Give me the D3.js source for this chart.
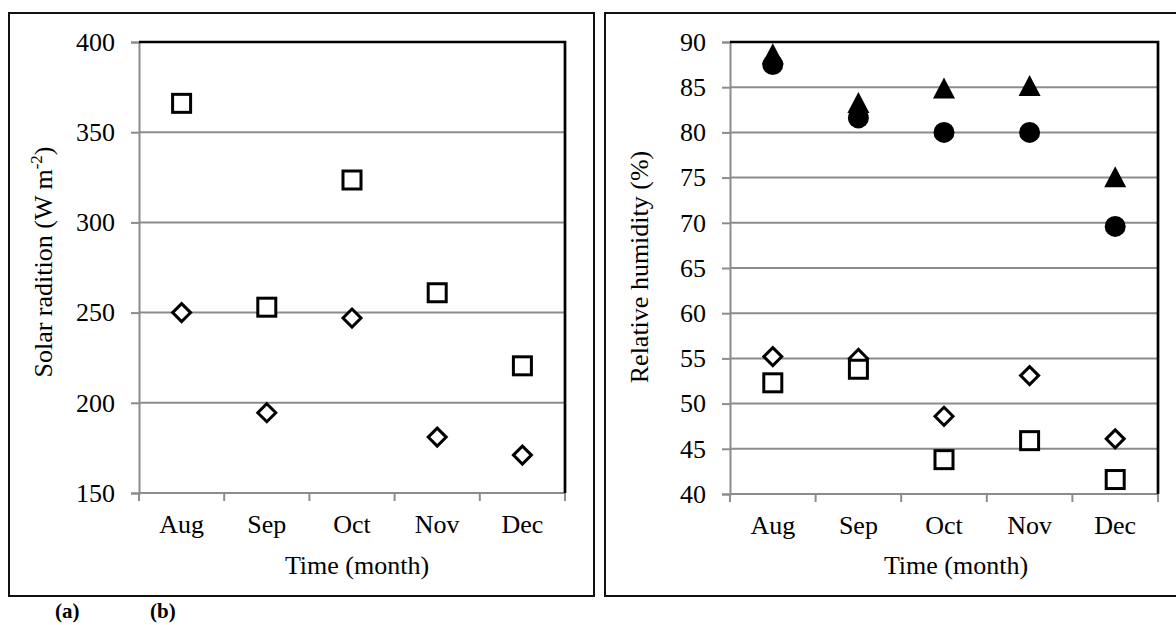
<!DOCTYPE html>
<html>
<head>
<meta charset="utf-8">
<script src="https://cdn.jsdelivr.net/npm/d3@7"></script>
<style>
  body { margin: 0; background: #fff; }
  svg text { font-family: "Liberation Serif", "Times New Roman", serif; fill: #000; }
</style>
</head>
<body>
<div class="chart"></div>
<script>
var svgWidth = 1176;
var svgHeight = 625;

// months shared by both panels
var months = ["Aug", "Sep", "Oct", "Nov", "Dec"];

// panel (a) solar radiation
var solarTicks = [150, 200, 250, 300, 350, 400];
var solarSquares = [366, 253, 323.5, 261, 220.5];
var solarDiamonds = [250, 194.5, 247, 181, 171];

// panel (b) relative humidity
var rhTicks = [40, 45, 50, 55, 60, 65, 70, 75, 80, 85, 90];
var rhTriangles = [88.7, 83.3, 84.9, 85.2, 75.1];
var rhCircles = [87.5, 81.6, 80, 80, 69.6];
var rhDiamonds = [55.2, 55.0, 48.6, 53.1, 46.1];
var rhSquares = [52.3, 53.8, 43.8, 45.9, 41.6];

var svg = d3.select(".chart")
  .append("svg")
  .attr("width", svgWidth)
  .attr("height", svgHeight);

// marker shapes
var shapes = {
  square: function(g) {
    g.append("rect").attr("x", -9).attr("y", -9).attr("width", 18).attr("height", 18)
      .attr("fill", "#fff").attr("stroke", "#000").attr("stroke-width", 3);
  },
  diamond: function(g) {
    g.append("path").attr("d", "M0,-9L9,0L0,9L-9,0Z")
      .attr("fill", "#fff").attr("stroke", "#000").attr("stroke-width", 3);
  },
  triangle: function(g) {
    g.append("path").attr("d", "M0,-10.5L11,10.5L-11,10.5Z").attr("fill", "#000");
  },
  circle: function(g) {
    g.append("circle").attr("r", 10.5).attr("fill", "#000");
  }
};

function drawPanel(p) {
  // outer frame
  svg.append("rect")
    .attr("x", p.frame[0]).attr("y", p.frame[1])
    .attr("width", p.frame[2]).attr("height", p.frame[3])
    .attr("fill", "none").attr("stroke", "#111").attr("stroke-width", 2);

  var x = d3.scaleBand().domain(months).range([p.left, p.right]).padding(0);
  var y = d3.scaleLinear().domain(p.domain).range([p.bottom, p.top]);

  var g = svg.append("g");

  // horizontal gridlines
  g.selectAll(".grid")
    .data(p.ticks.filter(function(t) { return t !== p.domain[0] && t !== p.domain[1]; }))
    .enter().append("line")
    .attr("x1", p.left).attr("x2", p.right)
    .attr("y1", d => y(d)).attr("y2", d => y(d))
    .attr("stroke", "#8c8c8c").attr("stroke-width", 2);

  // y axis
  var yAxis = g.append("g")
    .attr("transform", `translate(${p.left},0)`)
    .call(d3.axisLeft(y).tickValues(p.ticks).tickSize(8).tickPadding(16).tickFormat(d3.format("d")));
  yAxis.select(".domain").attr("stroke", "#8c8c8c").attr("stroke-width", 2);
  yAxis.selectAll(".tick line").attr("stroke", "#8c8c8c").attr("stroke-width", 2);
  yAxis.selectAll("text").style("font-size", "26px").attr("fill", "#000");

  // x axis: labels at band centres, ticks at band edges
  var xAxis = g.append("g")
    .attr("transform", `translate(0,${p.bottom})`)
    .call(d3.axisBottom(x).tickSize(0).tickPadding(0));
  xAxis.select(".domain").remove();
  xAxis.selectAll("text").style("font-size", "26px").attr("y", 40).attr("dy", 0).attr("fill", "#000");

  var edges = months.map(m => x(m)).concat([p.right]);
  g.selectAll(".xtick").data(edges).enter().append("line")
    .attr("x1", d => d).attr("x2", d => d)
    .attr("y1", p.bottom).attr("y2", p.bottom + 8)
    .attr("stroke", "#8c8c8c").attr("stroke-width", 2);
  g.append("line")
    .attr("x1", p.left).attr("x2", p.right).attr("y1", p.bottom).attr("y2", p.bottom)
    .attr("stroke", "#8c8c8c").attr("stroke-width", 2);

  // black top and right border
  g.append("path")
    .attr("d", `M${p.left},${p.top}H${p.right}V${p.bottom}`)
    .attr("fill", "none").attr("stroke", "#000").attr("stroke-width", 2.7);

  // series
  p.series.forEach(function(s) {
    g.selectAll(null).data(s.values).enter().append("g")
      .attr("transform", (d, i) => `translate(${x(months[i]) + x.bandwidth() / 2},${y(d)})`)
      .each(function() { shapes[s.shape](d3.select(this)); });
  });

  // axis titles
  g.append("text")
    .attr("x", (p.left + p.right) / 2 + p.xTitleShift).attr("y", 574)
    .attr("text-anchor", "middle").style("font-size", "26px")
    .text("Time (month)");

  var yt = g.append("text")
    .attr("transform", `translate(${p.yTitleX},${p.yTitleY}) rotate(-90)`)
    .attr("text-anchor", "middle").style("font-size", "26px");
  p.yTitle(yt);
}

drawPanel({
  frame: [9, 13, 585, 583],
  left: 139, right: 565, top: 42, bottom: 493,
  domain: [150, 400], ticks: solarTicks,
  series: [
    { shape: "square", values: solarSquares },
    { shape: "diamond", values: solarDiamonds }
  ],
  xTitleShift: 5,
  yTitleX: 52, yTitleY: 262,
  yTitle: function(t) {
    t.append("tspan").text("Solar radition (W m");
    t.append("tspan").attr("dy", -10).style("font-size", "17px").text("-2");
    t.append("tspan").attr("dy", 10).text(")");
  }
});

drawPanel({
  frame: [605, 13, 580, 583],
  left: 730, right: 1158, top: 42, bottom: 494,
  domain: [40, 90], ticks: rhTicks,
  series: [
    { shape: "triangle", values: rhTriangles },
    { shape: "circle", values: rhCircles },
    { shape: "diamond", values: rhDiamonds },
    { shape: "square", values: rhSquares }
  ],
  xTitleShift: 12,
  yTitleX: 648, yTitleY: 267,
  yTitle: function(t) { t.text("Relative humidity (%)"); }
});

// panel letters
svg.append("text").attr("x", 55).attr("y", 618)
  .style("font-size", "21px").style("font-weight", "bold").text("(a)");
svg.append("text").attr("x", 150).attr("y", 618)
  .style("font-size", "21px").style("font-weight", "bold").text("(b)");
</script>
</body>
</html>
